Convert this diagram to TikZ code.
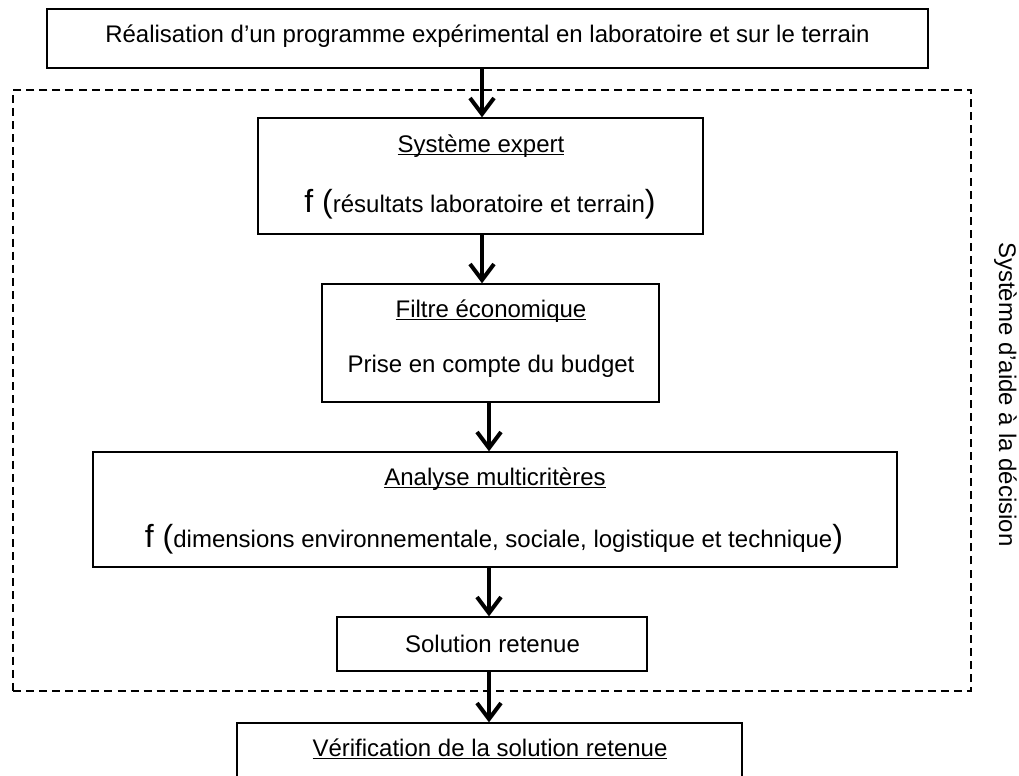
\documentclass[tikz,border=0pt]{standalone}
\usepackage{fontspec}
\setmainfont{Liberation Sans}
\usetikzlibrary{arrows.meta}
\newcommand\ulx[1]{\underline{\raisebox{0pt}[\height][0pt]{#1}}}
\newcommand\bigf[1]{{\fontsize{24}{24}\selectfont #1}}
\begin{document}
\begin{tikzpicture}[x=0.75pt,y=-0.75pt,
  box/.style={draw,line width=1pt,inner sep=0pt,fill=white},
  dashbox/.style={draw,line width=1.1pt,dash pattern=on 6pt off 3.8pt,inner sep=0pt},
  txt/.style={font=\fontsize{18}{21}\selectfont,inner sep=0pt,anchor=base},
  arr/.style={line width=3pt,-{Straight Barb[length=12pt,width=18pt]}}]
\clip (0,0) rectangle (1019,775);
\fill[white] (0,0) rectangle (1019,775);
% dashed frame
\node[dashbox,minimum width=0.75*958pt,minimum height=0.75*601pt] (dsa) at (492,390.5) {};
\node[txt,anchor=base west,rotate=-90] (side) at (999,242) {Système d’aide à la décision};
% boxes
\node[box,minimum width=0.75*881pt,minimum height=0.75*59pt] (top) at (487.5,38.5) {};
\node[box,minimum width=0.75*445pt,minimum height=0.75*116pt] (sys) at (480.5,176) {};
\node[box,minimum width=0.75*337pt,minimum height=0.75*118pt] (fil) at (490.5,343) {};
\node[box,minimum width=0.75*804pt,minimum height=0.75*115pt] (ana) at (495,509.5) {};
\node[box,minimum width=0.75*310pt,minimum height=0.75*54pt] (sol) at (492,644) {};
\node[box,minimum width=0.75*505pt,minimum height=0.75*100pt] (ver) at (489.5,773) {};
% texts
\node[txt] (topT) at (487.5,42) {Réalisation d’un programme expérimental en laboratoire et sur le terrain};
\node[txt] (sysT) at (481,152) {\ulx{Système expert}};
\node[txt] (sysF) at (480,212) {\bigf{f (}résultats laboratoire et terrain\bigf{)}};
\node[txt] (filT) at (491,317) {\ulx{Filtre économique}};
\node[txt] (filP) at (491,372) {Prise en compte du budget};
\node[txt] (anaT) at (495,485) {\ulx{Analyse multicritères}};
\node[txt] (anaF) at (494,547) {\bigf{f (}dimensions environnementale, sociale, logistique et technique\bigf{)}};
\node[txt] (solT) at (492.5,652) {Solution retenue};
\node[txt] (verT) at (490,756) {\ulx{Vérification de la solution retenue}};
% arrow axes
\coordinate (ax1) at (482,0);
\coordinate (ax2) at (489,0);
\draw[arr] (top.south -| ax1) -- (sys.north -| ax1);
\draw[arr] (sys.south -| ax1) -- (fil.north -| ax1);
\draw[arr] (fil.south -| ax2) -- (ana.north -| ax2);
\draw[arr] (ana.south -| ax2) -- (sol.north -| ax2);
\draw[arr] (sol.south -| ax2) -- (ver.north -| ax2);
\end{tikzpicture}
\end{document}
